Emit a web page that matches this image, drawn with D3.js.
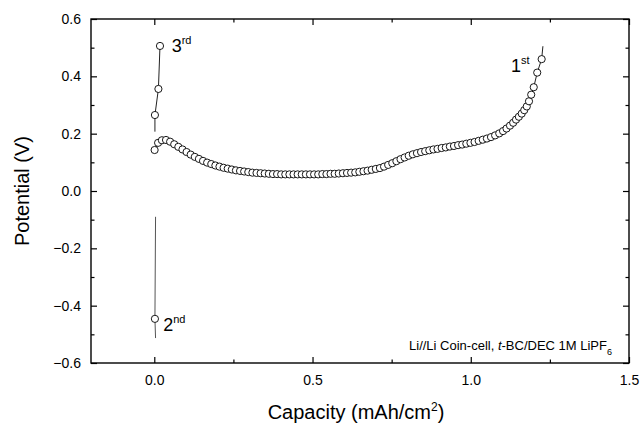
<!DOCTYPE html>
<html><head><meta charset="utf-8">
<script src="https://cdn.jsdelivr.net/npm/d3@7"></script>
<style>
html,body{margin:0;padding:0;background:#fff;}
text{font-family:"Liberation Sans",Arial,Helvetica,sans-serif;fill:#000;}
</style></head>
<body>
<svg id="chart" width="641" height="429"></svg>
<script>
// ---- data ----
const firstCap = [0.001,0.012,0.024,0.037,0.050,0.063,0.076,0.089,0.102,0.115,0.128,0.141,0.154,0.167,0.180,0.193,0.206,0.219,0.232,0.245,0.258,0.271,0.284,0.297,0.310,0.323,0.336,0.349,0.362,0.375,0.388,0.401,0.414,0.427,0.440,0.453,0.466,0.479,0.492,0.505,0.518,0.531,0.544,0.557,0.570,0.583,0.596,0.609,0.622,0.635,0.648,0.661,0.674,0.687,0.700,0.713,0.726,0.739,0.752,0.765,0.778,0.791,0.804,0.817,0.830,0.843,0.856,0.869,0.882,0.895,0.908,0.921,0.934,0.947,0.960,0.973,0.986,0.999,1.012,1.025,1.038,1.051,1.064,1.077,1.090,1.102,1.113,1.124,1.134,1.143,1.152,1.161,1.169,1.177,1.184,1.191,1.199,1.210,1.224];
const firstPot = [0.143,0.168,0.177,0.178,0.172,0.163,0.154,0.145,0.136,0.127,0.119,0.112,0.105,0.099,0.094,0.089,0.085,0.081,0.078,0.075,0.072,0.070,0.068,0.066,0.064,0.063,0.062,0.061,0.060,0.059,0.059,0.058,0.058,0.058,0.058,0.058,0.058,0.058,0.058,0.058,0.058,0.059,0.059,0.060,0.060,0.061,0.062,0.063,0.064,0.065,0.067,0.069,0.071,0.074,0.077,0.080,0.085,0.091,0.097,0.104,0.111,0.117,0.123,0.128,0.132,0.136,0.139,0.142,0.145,0.147,0.150,0.152,0.155,0.157,0.160,0.162,0.165,0.168,0.171,0.175,0.179,0.183,0.188,0.194,0.201,0.209,0.218,0.228,0.238,0.249,0.259,0.270,0.282,0.295,0.313,0.336,0.362,0.413,0.460];
const firstLineEnd = [1.228, 0.505];

const thirdCap = [0.002, 0.013, 0.018];
const thirdPot = [0.265, 0.356, 0.506];
const thirdLineStart = [0.002, 0.207];

const secondCap = [0.004, 0.002, 0.004];
const secondPot = [-0.090, -0.446, -0.513];
const secondMarked = [false, true, false];

const xTicks = [0.0, 0.5, 1.0, 1.5];
const xMinor = [0.25, 0.75, 1.25];
const yTicks = [-0.6, -0.4, -0.2, 0.0, 0.2, 0.4, 0.6];
const yMinor = [-0.5, -0.3, -0.1, 0.1, 0.3, 0.5];

// ---- layout ----
const L = 91, R = 629, T = 19, B = 363;
const svg = d3.select("#chart");
const x = d3.scaleLinear().domain([-0.2, 1.5]).range([L, R]);
const y = d3.scaleLinear().domain([-0.6, 0.6]).range([B, T]);

// frame
svg.append("rect").attr("x", L).attr("y", T).attr("width", R - L).attr("height", B - T)
  .attr("fill", "none").attr("stroke", "#000").attr("stroke-width", 1.4);

const fmt = d3.format(".1f");
function axisStyle(g) {
  g.select(".domain").remove();
  g.selectAll("line").attr("stroke", "#000").attr("stroke-width", 1.2);
  g.selectAll("text").style("font-size", "14px");
}
// bottom
svg.append("g").attr("transform", `translate(0,${B})`)
  .call(d3.axisBottom(x).tickValues(xTicks).tickFormat(fmt).tickSizeInner(-6).tickSizeOuter(0).tickPadding(12))
  .call(axisStyle);
svg.append("g").attr("transform", `translate(0,${B})`)
  .call(d3.axisBottom(x).tickValues(xMinor).tickFormat("").tickSizeInner(-3.5).tickSizeOuter(0))
  .call(axisStyle);
// top
svg.append("g").attr("transform", `translate(0,${T})`)
  .call(d3.axisTop(x).tickValues(xTicks).tickFormat("").tickSizeInner(-6).tickSizeOuter(0))
  .call(axisStyle);
svg.append("g").attr("transform", `translate(0,${T})`)
  .call(d3.axisTop(x).tickValues(xMinor).tickFormat("").tickSizeInner(-3.5).tickSizeOuter(0))
  .call(axisStyle);
// left
svg.append("g").attr("transform", `translate(${L},0)`)
  .call(d3.axisLeft(y).tickValues(yTicks).tickFormat(fmt).tickSizeInner(-6).tickSizeOuter(0).tickPadding(10))
  .call(axisStyle);
svg.append("g").attr("transform", `translate(${L},0)`)
  .call(d3.axisLeft(y).tickValues(yMinor).tickFormat("").tickSizeInner(-3.5).tickSizeOuter(0))
  .call(axisStyle);
// right
svg.append("g").attr("transform", `translate(${R},0)`)
  .call(d3.axisRight(y).tickValues(yTicks).tickFormat("").tickSizeInner(-6).tickSizeOuter(0))
  .call(axisStyle);
svg.append("g").attr("transform", `translate(${R},0)`)
  .call(d3.axisRight(y).tickValues(yMinor).tickFormat("").tickSizeInner(-3.5).tickSizeOuter(0))
  .call(axisStyle);

// titles
svg.append("text").attr("x", (L + R) / 2 - 4).attr("y", 419).attr("text-anchor", "middle")
  .style("font-size", "20px")
  .html('Capacity (mAh/cm<tspan dy="-8" style="font-size:12px">2</tspan><tspan dy="8">)</tspan>');
svg.append("text").attr("transform", `translate(29,${(T + B) / 2}) rotate(-90)`)
  .attr("text-anchor", "middle").style("font-size", "20px").text("Potential (V)");

// series
const line = d3.line().x(d => x(d[0])).y(d => y(d[1]));
const first = firstCap.map((c, i) => [c, firstPot[i]]);
const third = thirdCap.map((c, i) => [c, thirdPot[i]]);
const second = secondCap.map((c, i) => [c, secondPot[i]]);

svg.append("path").datum([thirdLineStart].concat(third)).attr("d", line)
  .attr("fill", "none").attr("stroke", "#222").attr("stroke-width", 1);
svg.append("path").datum(second).attr("d", line)
  .attr("fill", "none").attr("stroke", "#555").attr("stroke-width", 1);
svg.append("path").datum(first.concat([firstLineEnd])).attr("d", line)
  .attr("fill", "none").attr("stroke", "#222").attr("stroke-width", 1);

function markers(data) {
  svg.append("g").selectAll("circle").data(data).join("circle")
    .attr("cx", d => x(d[0])).attr("cy", d => y(d[1])).attr("r", 3.6)
    .attr("fill", "#fff").attr("stroke", "#000").attr("stroke-width", 0.9);
}
markers(first);
markers(third);
markers(second.filter((d, i) => secondMarked[i]));

// annotations
function ordinal(px, py, main, sup) {
  svg.append("text").attr("x", px).attr("y", py).style("font-size", "18px")
    .html(`${main}<tspan dy="-8" style="font-size:11px">${sup}</tspan>`);
}
ordinal(x(0.055), y(0.485), "3", "rd");
ordinal(x(0.028), y(-0.49), "2", "nd");
ordinal(x(1.127), y(0.415), "1", "st");

svg.append("text").attr("x", 612).attr("y", y(-0.555)).attr("text-anchor", "end")
  .style("font-size", "13px")
  .html('Li//Li Coin-cell, <tspan font-style="italic">t</tspan>-BC/DEC 1M LiPF<tspan dy="5" style="font-size:9px">6</tspan>');
</script>
</body></html>
